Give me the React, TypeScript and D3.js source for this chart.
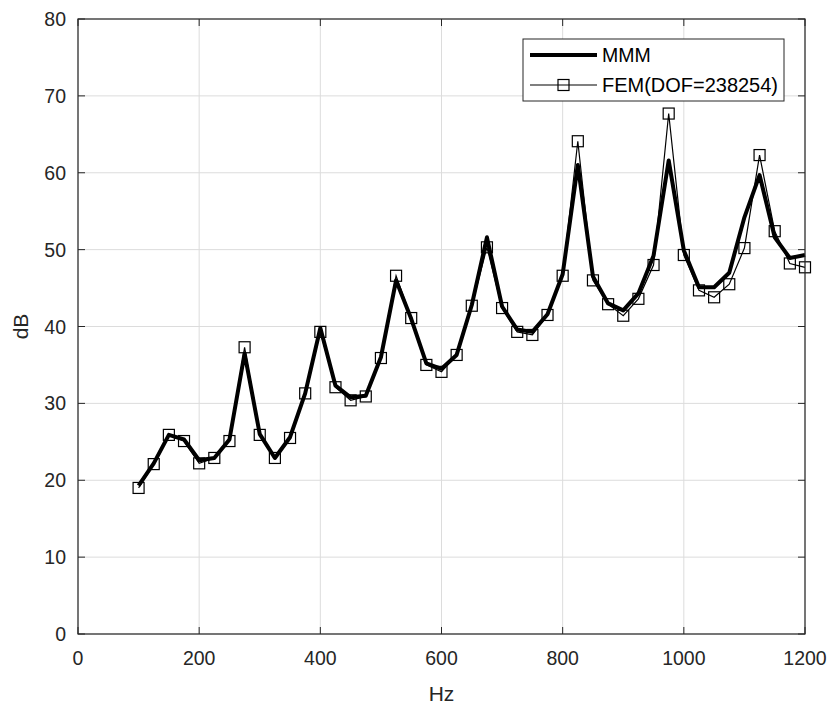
import React from "react";
import * as d3 from "d3";

const freqs = [100,125,150,175,200,225,250,275,300,325,350,375,400,425,450,475,500,525,550,575,600,625,650,675,700,725,750,775,800,825,850,875,900,925,950,975,1000,1025,1050,1075,1100,1125,1150,1175,1200];
const mmm = [19.3,22.2,25.9,25.3,22.6,22.9,25.3,36.5,26.0,22.9,25.6,31.3,39.8,32.3,30.8,31.0,36.0,46.0,41.0,35.2,34.5,36.3,42.8,51.6,42.6,39.6,39.3,41.6,46.8,61.0,46.5,43.0,42.1,44.3,49.2,61.6,49.9,45.1,45.1,47.0,54.2,59.7,51.6,48.9,49.3];
const fem = [19.0,22.1,25.9,25.1,22.2,22.9,25.1,37.3,25.9,22.9,25.5,31.3,39.3,32.1,30.4,30.9,35.9,46.6,41.1,35.0,34.1,36.3,42.7,50.3,42.4,39.3,38.9,41.5,46.6,64.1,46.0,42.9,41.4,43.6,48.0,67.7,49.3,44.7,43.8,45.5,50.2,62.3,52.4,48.2,47.7];
const xTicks = [0,200,400,600,800,1000,1200];
const yTicks = [0,10,20,30,40,50,60,70,80];
const seriesNames = ["MMM", "FEM(DOF=238254)"];

export default function App() {
  const W = 833, H = 711;
  const m = { left: 78, top: 19, right: 28, bottom: 77 };
  const iw = W - m.left - m.right;
  const ih = H - m.top - m.bottom;
  const x = d3.scaleLinear().domain([0, 1200]).range([0, iw]);
  const y = d3.scaleLinear().domain([0, 80]).range([ih, 0]);
  const line = d3.line<number>().x((_, i) => x(freqs[i])).y((d) => y(d));
  const axisC = "#262626";
  const font = "'Liberation Sans', Arial, sans-serif";
  const sq = 11;
  return (
    <svg width={W} height={H} style={{ position: "absolute", left: 0, top: 0, background: "#fff" }} fontFamily={font}>
      <rect width={W} height={H} fill="#fff" />
      <g transform={`translate(${m.left},${m.top})`}>
        {xTicks.map((t) => (
          <line key={"gx" + t} x1={x(t)} x2={x(t)} y1={0} y2={ih} stroke="#dcdcdc" strokeWidth={1} />
        ))}
        {yTicks.map((t) => (
          <line key={"gy" + t} x1={0} x2={iw} y1={y(t)} y2={y(t)} stroke="#dcdcdc" strokeWidth={1} />
        ))}
        <path d={line(mmm) || ""} fill="none" stroke="#000" strokeWidth={4} strokeLinejoin="round" />
        <path d={line(fem) || ""} fill="none" stroke="#000" strokeWidth={1.2} />
        {fem.map((v, i) => (
          <rect key={"s" + i} x={x(freqs[i]) - sq / 2} y={y(v) - sq / 2} width={sq} height={sq} fill="none" stroke="#000" strokeWidth={1.2} />
        ))}
        <rect x={0} y={0} width={iw} height={ih} fill="none" stroke={axisC} strokeWidth={1.2} />
        {xTicks.map((t) => (
          <g key={"tx" + t}>
            <line x1={x(t)} x2={x(t)} y1={ih} y2={ih - 7} stroke={axisC} />
            <line x1={x(t)} x2={x(t)} y1={0} y2={7} stroke={axisC} />
            <text x={x(t)} y={ih + 31} textAnchor="middle" fontSize={19.5} fill={axisC}>{t}</text>
          </g>
        ))}
        {yTicks.map((t) => (
          <g key={"ty" + t}>
            <line x1={0} x2={7} y1={y(t)} y2={y(t)} stroke={axisC} />
            <line x1={iw} x2={iw - 7} y1={y(t)} y2={y(t)} stroke={axisC} />
            <text x={-12} y={y(t) + 7} textAnchor="end" fontSize={19.5} fill={axisC}>{t}</text>
          </g>
        ))}
        <text x={iw / 2} y={ih + 67} textAnchor="middle" fontSize={21} fill={axisC}>Hz</text>
        <text transform={`translate(${-50},${ih / 2}) rotate(-90)`} textAnchor="middle" fontSize={21} fill={axisC}>dB</text>
        <g transform={`translate(${523 - m.left},${39 - m.top})`}>
          <rect x={0} y={0} width={261} height={62} fill="#fff" stroke={axisC} strokeWidth={1} />
          <line x1={7} x2={74} y1={16} y2={16} stroke="#000" strokeWidth={4} />
          <text x={79} y={23} fontSize={19.5} fill="#000">{seriesNames[0]}</text>
          <line x1={7} x2={74} y1={46} y2={46} stroke="#000" strokeWidth={1.2} />
          <rect x={40.5 - sq / 2} y={46 - sq / 2} width={sq} height={sq} fill="none" stroke="#000" strokeWidth={1.2} />
          <text x={79} y={53} fontSize={19.5} fill="#000" textLength={176} lengthAdjust="spacingAndGlyphs">{seriesNames[1]}</text>
        </g>
      </g>
    </svg>
  );
}
